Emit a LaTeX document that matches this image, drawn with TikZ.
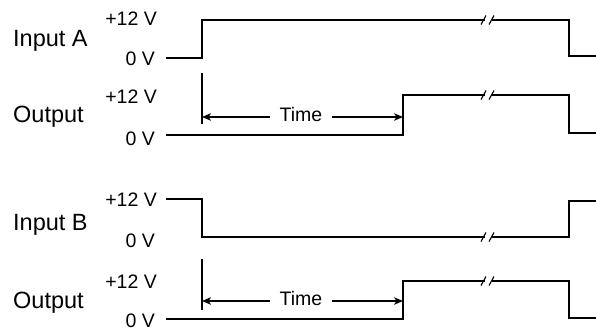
\documentclass[tikz,border=0pt]{standalone}
\usepackage{fontspec}
\setmainfont{Liberation Sans}
\usetikzlibrary{arrows.meta}
\begin{document}
\begin{tikzpicture}[x=1pt,y=-1pt,
  wave/.style={line width=1.3pt, line join=miter},
  lbl/.style={inner sep=0pt, anchor=base east, font=\fontsize{19.5}{20}\selectfont},
  sig/.style={inner sep=0pt, anchor=base west, font=\fontsize{23.5}{24}\selectfont},
  timelbl/.style={inner xsep=9.3pt, inner ysep=0pt, text depth=5pt, font=\fontsize{19.5}{20}\selectfont},
  timearrow/.style={line width=1.1pt, -{Stealth[length=9pt,width=7.5pt,inset=2.5pt]}},
  marker/.style={line width=1.2pt},
  brk/.style={line width=1.1pt},
  brkpic/.pic={\draw[brk] (-2.5,4.5) -- (2.5,-4.5) (5.5,4.5) -- (10.5,-4.5);}]
\useasboundingbox (0,0) rectangle (596,330);

% ---------- labels ----------
\node[sig] (inA)  at (13,46.5)  {Input A};
\node[sig] (outA) at (13,122.5) {Output};
\node[sig] (inB)  at (13,230)   {Input B};
\node[sig] (outB) at (13,308)   {Output};

\node[lbl] (a12) at (157,25)    {+12 V};
\node[lbl] (a0)  at (155,65)    {0 V};
\node[lbl] (o12) at (157,103.3) {+12 V};
\node[lbl] (o0)  at (155,145)   {0 V};
\node[lbl] (b12) at (157,206.7) {+12 V};
\node[lbl] (b0)  at (155,247.7) {0 V};
\node[lbl] (p12) at (157,288.3) {+12 V};
\node[lbl] (p0)  at (155,327.5) {0 V};

% ---------- Input A ----------
\draw[wave] (166,58) -- (202,58) -- (202,20) -- (485,20);
\draw[wave] (492,20) -- (569,20) -- (569,56) -- (596,56);
\pic at (483.5,20) {brkpic};

% ---------- Output A ----------
\draw[wave] (166,135) -- (403,135) -- (403,95) -- (485,95);
\draw[wave] (492,95) -- (569,95) -- (569,133) -- (596,133);
\pic at (483.5,95) {brkpic};

\coordinate (mA1) at (202,73);
\coordinate (mA2) at (202,124);
\draw[marker] (mA1) -- (mA2);
\node[timelbl] (tA) at (301,117) {Time};
\coordinate (mAa) at (202,117);
\coordinate (sAa) at (403,117);
\draw[timearrow] (tA.west) -- (mAa);
\draw[timearrow] (tA.east) -- (sAa);

% ---------- Input B ----------
\draw[wave] (166,199) -- (202,199) -- (202,237) -- (485,237);
\draw[wave] (492,237) -- (569,237) -- (569,201) -- (596,201);
\pic at (483.5,237) {brkpic};

% ---------- Output B ----------
\draw[wave] (166,319) -- (403,319) -- (403,281) -- (485,281);
\draw[wave] (492,281) -- (569,281) -- (569,318) -- (596,318);
\pic at (483.5,281) {brkpic};

\coordinate (mB1) at (202,259);
\coordinate (mB2) at (202,310);
\draw[marker] (mB1) -- (mB2);
\node[timelbl] (tB) at (301,301) {Time};
\coordinate (mBa) at (202,301);
\coordinate (sBa) at (403,301);
\draw[timearrow] (tB.west) -- (mBa);
\draw[timearrow] (tB.east) -- (sBa);
\end{tikzpicture}
\end{document}
